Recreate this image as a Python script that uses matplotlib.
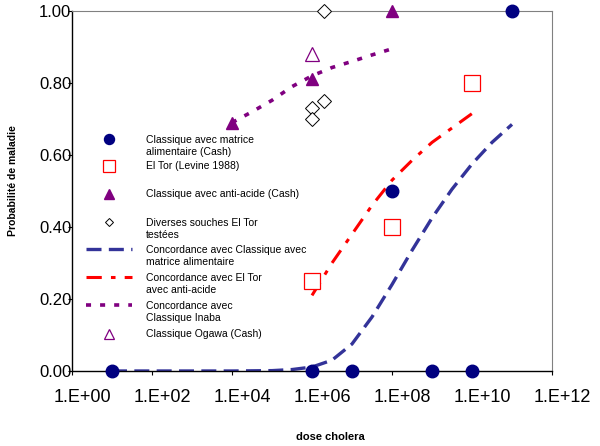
import matplotlib
matplotlib.use("Agg")
import matplotlib.pyplot as plt
from matplotlib.lines import Line2D
import matplotlib.transforms as mtransforms
import numpy as np

plt.rcParams['font.family'] = ['Liberation Sans', 'DejaVu Sans']

# ---------------- data ----------------
# Classique avec matrice alimentaire (Cash)
cash_x = [1e1, 1e6, 1e7, 1e8, 1e9, 1e10, 1e11]
cash_y = [0.0, 0.0, 0.0, 0.50, 0.0, 0.0, 1.00]
# El Tor (Levine 1988)
levine_x = [1e6, 1e8, 1e10]
levine_y = [0.25, 0.40, 0.80]
# Classique avec anti-acide (Cash)
anti_x = [1e4, 1e6, 1e8]
anti_y = [0.69, 0.81, 1.00]
# Diverses souches El Tor testées
div_x = [1e6, 2e6, 1e6, 2e6]
div_y = [0.73, 0.75, 0.70, 1.00]
# Classique Ogawa (Cash)
ogawa_x = [1e6]
ogawa_y = [0.88]

# Concordance curves
conc_cl_logx = [1, 2, 3, 4, 5, 5.5, 6, 6.5, 7, 7.5, 8, 8.5, 9, 9.5, 10, 10.5, 11]
conc_cl_y = [0.0, 0.0, 0.0, 0.0, 0.001, 0.004, 0.011, 0.03, 0.075, 0.15, 0.24,
             0.335, 0.425, 0.505, 0.575, 0.635, 0.685]
conc_et_logx = [6, 6.5, 7, 7.5, 8, 8.5, 9, 9.5, 10]
conc_et_y = [0.21, 0.30, 0.38, 0.46, 0.53, 0.585, 0.635, 0.675, 0.715]
conc_in_logx = [4, 4.5, 5, 5.5, 6, 6.5, 7, 7.5, 8]
conc_in_y = [0.69, 0.72, 0.752, 0.79, 0.82, 0.843, 0.86, 0.878, 0.895]

xtick_vals = [1e0, 1e2, 1e4, 1e6, 1e8, 1e10, 1e12]
xtick_labels = ["1.E+00", "1.E+02", "1.E+04", "1.E+06", "1.E+08", "1.E+10", "1.E+12"]
ytick_vals = [0.0, 0.2, 0.4, 0.6, 0.8, 1.0]
ytick_labels = ["0.00", "0.20", "0.40", "0.60", "0.80", "1.00"]

legend_labels = [
    "Classique avec matrice\nalimentaire (Cash)",
    "El Tor (Levine 1988)",
    "Classique avec anti-acide (Cash)",
    "Diverses souches El Tor\ntestées",
    "Concordance avec Classique avec\nmatrice alimentaire",
    "Concordance avec El Tor\navec anti-acide",
    "Concordance avec\nClassique Inaba",
    "Classique Ogawa (Cash)",
]

# ---------------- styles ----------------
navy = "#000080"
blue_line = "#333399"
red = "#FF0000"
purple = "#800080"

fig = plt.figure(figsize=(6.0, 4.46), dpi=100)
ax = fig.add_axes([0.12, 0.1682, 0.80, 0.8071])

cl_style = dict(color=blue_line, lw=2.4, linestyle=(0, (4.5, 2.2)))
et_style = dict(color=red, lw=2.2, linestyle=(0, (5, 3, 1.5, 3)))
in_style = dict(color=purple, lw=2.6, linestyle=(0, (1.4, 2.5)))

ax.plot(10 ** np.array(conc_cl_logx), conc_cl_y, **cl_style, zorder=2)
ax.plot(10 ** np.array(conc_et_logx), conc_et_y, **et_style, zorder=2)
ax.plot(10 ** np.array(conc_in_logx), conc_in_y, **in_style, zorder=2)

m_cash = dict(marker='o', color=navy, markersize=9, linestyle='none')
m_lev = dict(marker='s', markerfacecolor='white', markeredgecolor=red, markersize=11,
             markeredgewidth=0.9, linestyle='none')
m_anti = dict(marker='^', color=purple, markersize=9, linestyle='none')
m_div = dict(marker='D', markerfacecolor='white', markeredgecolor='black', markersize=7,
             markeredgewidth=0.7, linestyle='none')
m_oga = dict(marker='^', markerfacecolor='white', markeredgecolor=purple, markersize=10,
             markeredgewidth=0.9, linestyle='none')

ax.plot(cash_x, cash_y, **m_cash, clip_on=False, zorder=4)
ax.plot(levine_x, levine_y, **m_lev, clip_on=False, zorder=4)
ax.plot(anti_x, anti_y, **m_anti, clip_on=False, zorder=4)
ax.plot(div_x, div_y, **m_div, clip_on=False, zorder=4)
ax.plot(ogawa_x, ogawa_y, **m_oga, clip_on=False, zorder=4)

ax.set_xscale('log')
ax.set_xlim(1e0, 1e12)
ax.set_ylim(0, 1)
ax.set_xticks(xtick_vals)
ax.set_xticklabels(xtick_labels, fontsize=13)
ax.minorticks_off()
ax.set_yticks(ytick_vals)
ax.set_yticklabels(ytick_labels, fontsize=12)
ax.tick_params(axis='x', direction='out', length=3, width=0.8, pad=10)
ax.tick_params(axis='y', direction='out', length=3, width=0.8, pad=-2.5)
ax.xaxis.set_minor_locator(matplotlib.ticker.NullLocator())

offset = mtransforms.ScaledTranslation(10 / 100, 0, fig.dpi_scale_trans)
for lab in ax.get_xticklabels():
    lab.set_transform(lab.get_transform() + offset)

for s in ['top', 'right']:
    ax.spines[s].set_color('#808080')
    ax.spines[s].set_linewidth(0.8)
for s in ['left', 'bottom']:
    ax.spines[s].set_color('black')
    ax.spines[s].set_linewidth(1.0)

# ---------------- manual legend ----------------
def px_to_ax(px, py):
    return (px - 72) / 480.0, (371 - py) / 360.0

handles = [
    ('m', m_cash, 0.8), ('m', m_lev, 0.8), ('m', m_anti, 0.8), ('m', m_div, 0.65),
    ('l', cl_style, 1), ('l', et_style, 1), ('l', in_style, 1), ('m', m_oga, 0.7),
]
rows_py = [139, 166, 194, 222, 249, 277, 305, 334]
for (kind, st, scale), py, lab in zip(handles, rows_py, legend_labels):
    xm, ym = px_to_ax(109, py)
    if kind == 'm':
        st2 = dict(st)
        st2['markersize'] = st['markersize'] * scale
        ax.add_line(Line2D([xm], [ym], transform=ax.transAxes, **st2))
    else:
        x0, _ = px_to_ax(86, py)
        x1, _ = px_to_ax(132, py)
        ax.add_line(Line2D([x0, x1], [ym, ym], transform=ax.transAxes, **st))
    xt, _ = px_to_ax(146, py)
    if "\n" in lab:
        _, yt = px_to_ax(146, py - 4)
        ax.text(xt, yt, lab, transform=ax.transAxes, fontsize=7.5, va='top', ha='left',
                linespacing=1.3)
    else:
        ax.text(xt, ym, lab, transform=ax.transAxes, fontsize=7.5, va='center', ha='left')

fig.text(0.55, 0.02, "dose cholera", fontsize=8, fontweight='bold', ha='center', va='center')
fig.text(0.022, 0.596, "Probabilité de maladie", fontsize=7.5, fontweight='bold',
         rotation=90, ha='center', va='center')

fig.savefig("out.png", dpi=100)
